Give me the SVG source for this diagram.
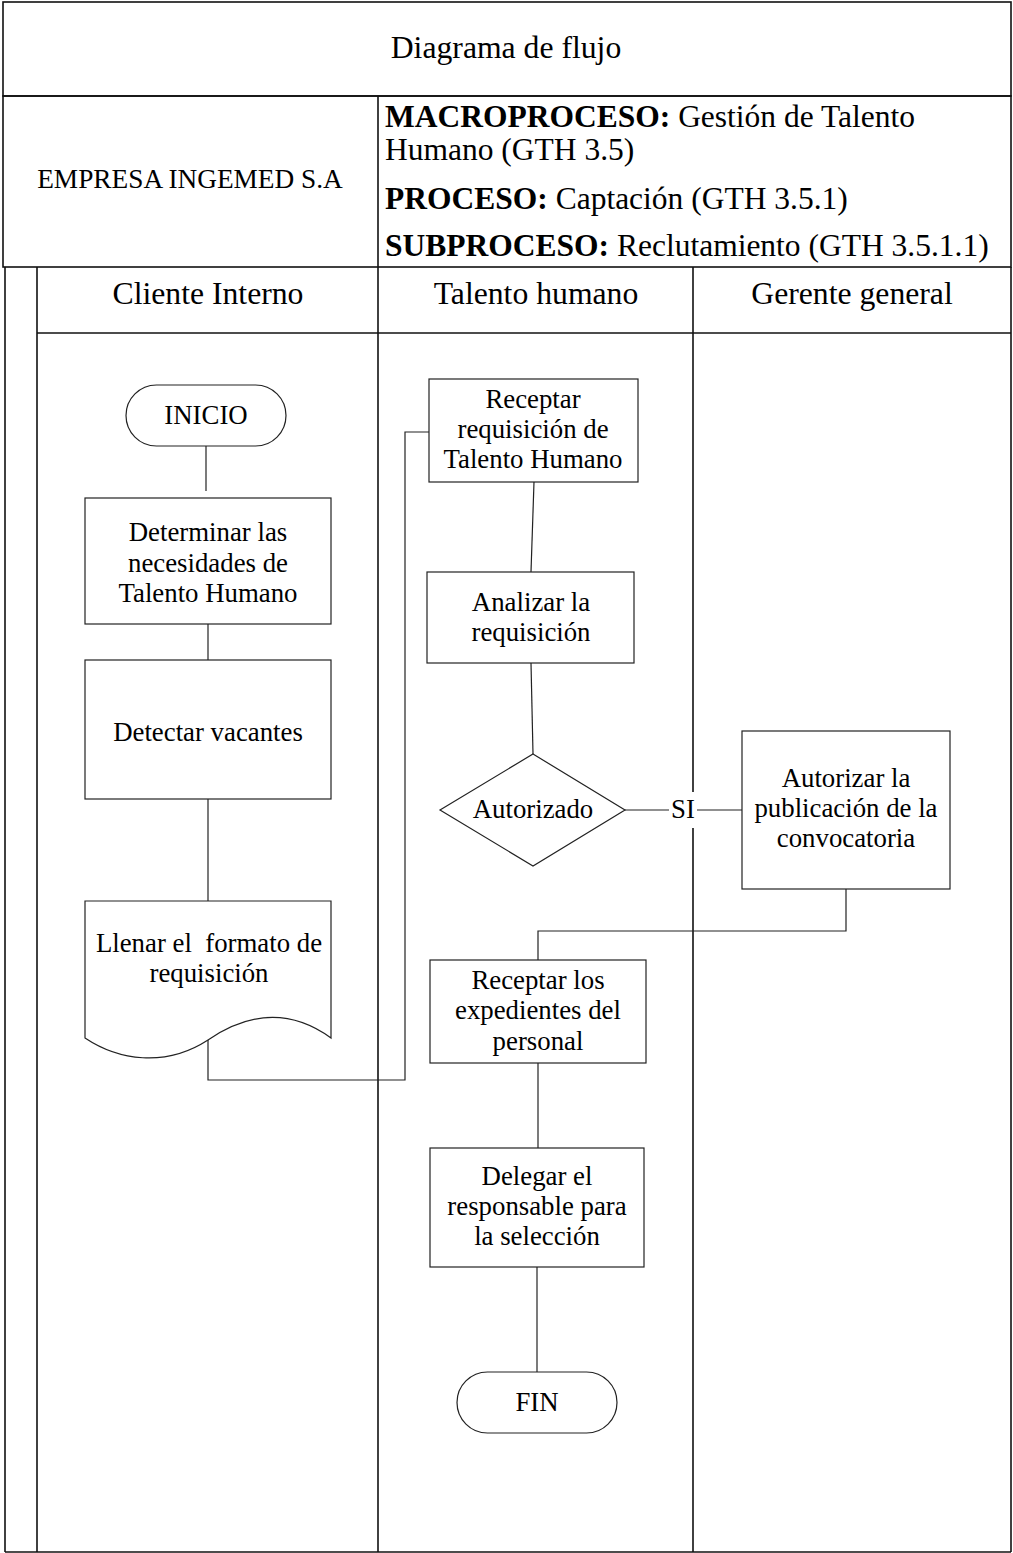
<svg xmlns="http://www.w3.org/2000/svg" width="1013" height="1553" viewBox="0 0 1013 1553">
  <style>
    text { font-family: "Liberation Serif", "Times New Roman", serif; fill: #000; }
    .grid { fill: none; stroke: #111; stroke-width: 1.6; }
    .shape { fill: #fff; stroke: #222; stroke-width: 1.2; }
    .conn { fill: none; stroke: #222; stroke-width: 1.2; }
    .lbl { font-size: 26.8px; text-anchor: middle; }
    .hdr { font-size: 31.7px; text-anchor: middle; }
    .meta { font-size: 31.5px; }
    .b { font-weight: bold; }
  </style>

  <rect width="1013" height="1553" fill="#fff"/>

  <!-- header table -->
  <g id="header">
    <rect class="grid" x="3" y="2" width="1008" height="94"/>
    <rect class="grid" x="3" y="96" width="1008" height="171"/>
    <line class="grid" x1="378" y1="96" x2="378" y2="267"/>
    <text class="hdr" x="506" y="58">Diagrama de flujo</text>
    <text x="190" y="188" font-size="27.3" text-anchor="middle">EMPRESA INGEMED S.A</text>
    <text class="meta" x="385" y="127"><tspan class="b">MACROPROCESO:</tspan> Gestión de Talento</text>
    <text class="meta" x="385" y="160">Humano (GTH 3.5)</text>
    <text class="meta" x="385" y="209"><tspan class="b">PROCESO:</tspan> Captación (GTH 3.5.1)</text>
    <text class="meta" x="385" y="256"><tspan class="b">SUBPROCESO:</tspan> Reclutamiento (GTH 3.5.1.1)</text>
  </g>

  <!-- swimlanes -->
  <g id="lanes">
    <line class="grid" x1="5" y1="267" x2="5" y2="1552"/>
    <line class="grid" x1="37" y1="267" x2="37" y2="1552"/>
    <line class="grid" x1="378" y1="267" x2="378" y2="1552"/>
    <line class="grid" x1="693" y1="267" x2="693" y2="792"/>
    <line class="grid" x1="693" y1="828" x2="693" y2="1552"/>
    <line class="grid" x1="1011" y1="267" x2="1011" y2="1552"/>
    <line class="grid" x1="5" y1="1552" x2="1011" y2="1552"/>
    <line class="grid" x1="37" y1="333" x2="1011" y2="333"/>
    <text class="hdr" x="208" y="304">Cliente Interno</text>
    <text class="hdr" x="536" y="304">Talento humano</text>
    <text class="hdr" x="852" y="304">Gerente general</text>
  </g>

  <!-- connectors -->
  <g id="connectors">
    <line class="conn" x1="206" y1="446" x2="206" y2="491"/>
    <line class="conn" x1="208" y1="624" x2="208" y2="660"/>
    <line class="conn" x1="208" y1="799" x2="208" y2="901" stroke-width="2"/>
    <polyline class="conn" points="208,1040 208,1080 405,1080 405,432 429,432"/>
    <line class="conn" x1="534" y1="482" x2="531" y2="572"/>
    <line class="conn" x1="531" y1="663" x2="533" y2="754"/>
    <line class="conn" x1="625" y1="810" x2="669" y2="810"/>
    <line class="conn" x1="697" y1="810" x2="742" y2="810"/>
    <polyline class="conn" points="846,889 846,931 538,931 538,960"/>
    <line class="conn" x1="538" y1="1063" x2="538" y2="1148"/>
    <line class="conn" x1="537" y1="1267" x2="537" y2="1372"/>
    <text class="lbl" x="683" y="818">SI</text>
  </g>

  <g id="inicio">
    <rect class="shape" x="126" y="385" width="160" height="61" rx="30.5"/>
    <text class="lbl" x="206" y="424">INICIO</text>
  </g>

  <g id="determinar">
    <rect class="shape" x="85" y="498" width="246" height="126"/>
    <text class="lbl" x="208" y="541">Determinar las</text>
    <text class="lbl" x="208" y="572">necesidades de</text>
    <text class="lbl" x="208" y="602">Talento Humano</text>
  </g>

  <g id="detectar">
    <rect class="shape" x="85" y="660" width="246" height="139"/>
    <text class="lbl" x="208" y="741">Detectar vacantes</text>
  </g>

  <g id="llenar">
    <path class="shape" d="M85,901 H331 V1038 C295,1012 255,1008 208,1040 C165,1068 118,1060 85,1038 Z"/>
    <text class="lbl" x="209" y="952" style="white-space:pre">Llenar el  formato de</text>
    <text class="lbl" x="209" y="982">requisición</text>
  </g>

  <g id="receptar">
    <rect class="shape" x="429" y="379" width="209" height="103"/>
    <text class="lbl" x="533" y="408">Receptar</text>
    <text class="lbl" x="533" y="438">requisición de</text>
    <text class="lbl" x="533" y="468">Talento Humano</text>
  </g>

  <g id="analizar">
    <rect class="shape" x="427" y="572" width="207" height="91"/>
    <text class="lbl" x="531" y="611">Analizar la</text>
    <text class="lbl" x="531" y="641">requisición</text>
  </g>

  <g id="autorizado">
    <polygon class="shape" points="533,754 625,810 533,866 440,810"/>
    <text class="lbl" x="533" y="818">Autorizado</text>
  </g>

  <g id="autorizar">
    <rect class="shape" x="742" y="731" width="208" height="158"/>
    <text class="lbl" x="846" y="787">Autorizar la</text>
    <text class="lbl" x="846" y="817">publicación de la</text>
    <text class="lbl" x="846" y="847">convocatoria</text>
  </g>

  <g id="receptar-expedientes">
    <rect class="shape" x="430" y="960" width="216" height="103"/>
    <text class="lbl" x="538" y="989">Receptar los</text>
    <text class="lbl" x="538" y="1019">expedientes del</text>
    <text class="lbl" x="538" y="1050">personal</text>
  </g>

  <g id="delegar">
    <rect class="shape" x="430" y="1148" width="214" height="119"/>
    <text class="lbl" x="537" y="1185">Delegar el</text>
    <text class="lbl" x="537" y="1215">responsable para</text>
    <text class="lbl" x="537" y="1245">la selección</text>
  </g>

  <g id="fin">
    <rect class="shape" x="457" y="1372" width="160" height="61" rx="30.5"/>
    <text class="lbl" x="537" y="1411">FIN</text>
  </g>
</svg>
